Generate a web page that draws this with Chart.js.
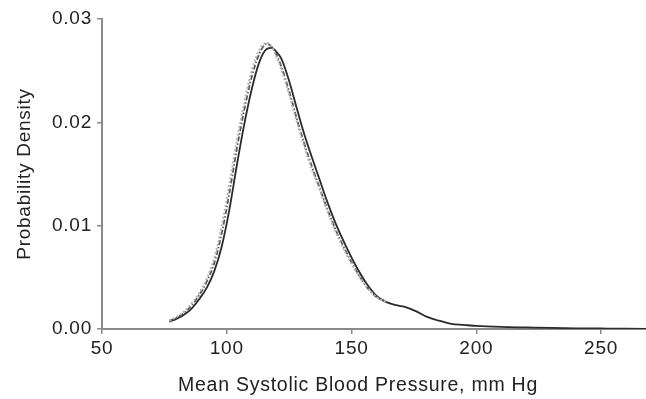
<!DOCTYPE html>
<html>
<head>
<meta charset="utf-8">
<script src="https://cdn.jsdelivr.net/npm/chart.js@4"></script>
<style>
  html, body { margin: 0; padding: 0; background: #fff; }
  #wrap { width: 646px; height: 399px; }
</style>
</head>
<body>
<div id="wrap"><canvas id="densityChart" width="646" height="399"></canvas></div>
<script>
// blood pressure grid (mm Hg)
const bpValues = [77, 80, 83, 86, 89, 92, 95, 98, 101, 104, 107, 110, 113, 116, 118, 120, 122, 125, 128, 131, 134, 137, 140, 144, 148, 152, 156, 160, 164, 168, 172, 176, 180, 185, 190, 195, 200, 210, 220, 230, 240, 250, 260, 268];

// solid curve
const solidDensity = [0.0007, 0.0010, 0.0014, 0.0020, 0.0029, 0.0040, 0.0056, 0.0080, 0.0115, 0.0158, 0.0198, 0.0232, 0.0258, 0.0271, 0.0272, 0.0268, 0.0261, 0.0240, 0.0214, 0.0189, 0.0167, 0.0146, 0.0125, 0.0100, 0.0079, 0.0060, 0.0044, 0.0032, 0.0026, 0.0023, 0.0021, 0.0017, 0.0012, 0.0008, 0.0005, 0.0004, 0.0003, 0.0002, 0.00015, 0.0001, 0.00007, 0.00005, 0.00003, 0.00002];

// dash-dot curve (only drawn up to 164)
const dashDensity = [0.0008, 0.0011, 0.0016, 0.0023, 0.0033, 0.0046, 0.0064, 0.0093, 0.0131, 0.0174, 0.0212, 0.0244, 0.0266, 0.0276, 0.0273, 0.0265, 0.0253, 0.0230, 0.0204, 0.0180, 0.0158, 0.0138, 0.0118, 0.0094, 0.0074, 0.0056, 0.0041, 0.0031, 0.0026];

// light dotted curve
const dotDensity = [0.0008, 0.0012, 0.0017, 0.0025, 0.0035, 0.0049, 0.0069, 0.0100, 0.0140, 0.0182, 0.0219, 0.0250, 0.0270, 0.0277, 0.0273, 0.0263, 0.0250, 0.0227, 0.0201, 0.0177, 0.0155, 0.0136, 0.0116, 0.0092, 0.0072, 0.0055, 0.0041, 0.0031, 0.0026];

const xTicks = [50, 100, 150, 200, 250];
const yTicks = [0, 0.01, 0.02, 0.03];
const xTitle = 'Mean Systolic Blood Pressure, mm Hg';
const yTitle = 'Probability Density';

const axisColor = '#8a8a8a';
const textColor = '#222';
const fontFamily = '"Liberation Sans", Arial, sans-serif';
const spacing = '0.75px';

function toPoints(ys) {
    return ys.map((y, i) => ({ x: bpValues[i], y }));
}

// the original type is set a little wider than Arial
const spacingPlugin = {
    id: 'spacing',
    beforeLayout(chart) { chart.ctx.letterSpacing = spacing; },
    beforeDraw(chart) { chart.ctx.letterSpacing = spacing; }
};

// x title is off-centre in the original, so draw it here
const xTitlePlugin = {
    id: 'xTitle',
    afterDraw(chart) {
        const ctx = chart.ctx;
        ctx.save();
        ctx.letterSpacing = spacing;
        ctx.font = '19.5px ' + fontFamily;
        ctx.fillStyle = textColor;
        ctx.textAlign = 'center';
        ctx.textBaseline = 'middle';
        ctx.fillText(xTitle, 358, 386);
        ctx.restore();
    }
};

const ctx = document.getElementById('densityChart').getContext('2d');
new Chart(ctx, {
    type: 'line',
    data: {
        datasets: [
            {
                data: toPoints(dotDensity),
                borderColor: '#b4b4b4',
                borderWidth: 2,
                borderDash: [2, 2],
                pointRadius: 0,
                cubicInterpolationMode: 'monotone'
            },
            {
                data: toPoints(dashDensity),
                borderColor: '#555',
                borderWidth: 1.8,
                borderDash: [5, 2, 1.5, 2],
                pointRadius: 0,
                cubicInterpolationMode: 'monotone'
            },
            {
                data: toPoints(solidDensity),
                borderColor: '#2a2a2a',
                borderWidth: 1.8,
                pointRadius: 0,
                cubicInterpolationMode: 'monotone'
            }
        ]
    },
    options: {
        responsive: false,
        animation: false,
        layout: { padding: { top: 19, right: 0, left: 0, bottom: 0 } },
        plugins: {
            legend: { display: false },
            tooltip: { enabled: false }
        },
        scales: {
            x: {
                type: 'linear',
                min: 50,
                max: 268,
                afterBuildTicks: s => { s.ticks = xTicks.map(v => ({ value: v })); },
                afterFit: s => { s.height = 70; },
                border: { color: axisColor, width: 2 },
                grid: { drawOnChartArea: false, drawTicks: true, tickLength: 5, color: axisColor, lineWidth: 1.5 },
                ticks: {
                    color: textColor,
                    font: { family: fontFamily, size: 19 },
                    padding: 3,
                    maxRotation: 0
                }
            },
            y: {
                min: 0,
                max: 0.03,
                afterBuildTicks: s => { s.ticks = yTicks.map(v => ({ value: v })); },
                afterFit: s => { s.width = 102; },
                border: { color: axisColor, width: 2 },
                grid: { drawOnChartArea: false, drawTicks: true, tickLength: 5, color: axisColor, lineWidth: 1.5 },
                ticks: {
                    color: textColor,
                    font: { family: fontFamily, size: 19 },
                    padding: 5,
                    callback: v => v.toFixed(2)
                },
                title: {
                    display: true,
                    text: yTitle,
                    color: textColor,
                    font: { family: fontFamily, size: 19 },
                    padding: { top: 13, bottom: 0 }
                }
            }
        }
    },
    plugins: [spacingPlugin, xTitlePlugin]
});
</script>
</body>
</html>
